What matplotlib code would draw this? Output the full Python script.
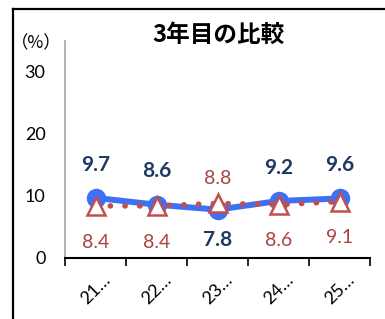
import matplotlib
matplotlib.use("Agg")
import matplotlib.pyplot as plt
from matplotlib.lines import Line2D
import numpy as np

plt.rcParams['font.family'] = ['Lato', 'Noto Sans CJK JP', 'DejaVu Sans']

categories = ["21…", "22…", "23…", "24…", "25…"]
series_a = [9.7, 8.6, 7.8, 9.2, 9.6]
series_b = [8.4, 8.4, 8.8, 8.6, 9.1]
a_label_above = [True, True, False, True, True]
b_label_above = [False, False, True, False, False]
title = "3年目の比較"
unit = "（%）"
yticks = [0, 10, 20, 30]

fig = plt.figure(figsize=(3.85, 3.19), dpi=100)
ax = fig.add_axes([65/385, 61/319, 305/385, 217/319])

x = np.arange(len(categories))
blue = "#3F6FF2"
navy = "#1F3864"
red = "#C0504D"
redtxt = "#A94442"

ax.plot(x, series_a, color=blue, lw=4.3, marker='o', ms=13,
        markerfacecolor=blue, markeredgecolor=blue, zorder=3)
ax.plot(x, series_b, color=red, lw=4.0, linestyle=(0, (0.05, 2.6)),
        dash_capstyle='round', zorder=4)
ax.plot(x, series_b, linestyle='none', marker='^', ms=13.5,
        markerfacecolor='white', markeredgecolor=red, markeredgewidth=1.8, zorder=5)

for xi, v, up in zip(x, series_a, a_label_above):
    ax.annotate(f"{v:.1f}", (xi, v), xytext=(0, 24 if up else -22),
                textcoords='offset points', ha='center', va='center',
                fontsize=15, fontweight='bold', color=navy)
for xi, v, up in zip(x, series_b, b_label_above):
    ax.annotate(f"{v:.1f}", (xi, v), xytext=(0, 18 if up else -26),
                textcoords='offset points', ha='center', va='center',
                fontsize=14, color=redtxt)

ax.set_xlim(-0.5, len(categories) - 0.5)
ax.set_ylim(0, 35)
ax.set_yticks(yticks)
ax.set_yticklabels([str(t) for t in yticks], fontsize=13)
ax.tick_params(axis='y', length=0, pad=14)
ax.set_xticks(x)
ax.set_xticklabels(categories, rotation=45, ha='center', fontsize=13)
ax.tick_params(axis='x', which='major', length=0, pad=10)
ax.set_xticks(np.arange(len(categories) + 1) - 0.5, minor=True)
ax.tick_params(axis='x', which='minor', length=6, width=1.2, color='black')

for s in ['top', 'right']:
    ax.spines[s].set_visible(False)
ax.spines['left'].set_color('#A6A6A6')
ax.spines['left'].set_linewidth(1.2)
ax.spines['bottom'].set_color('black')
ax.spines['bottom'].set_linewidth(1.5)

fig.text(218/385, 1 - 35/319, title, ha='center', va='center',
         fontsize=17, fontweight='bold', family=['Noto Sans CJK JP', 'DejaVu Sans'])
fig.text(11/385, 1 - 43/319, unit, ha='left', va='center', fontsize=12.5,
         family=['Noto Sans CJK JP', 'DejaVu Sans'])

fig.add_artist(Line2D([13/385, 1], [1 - 8.5/319, 1 - 8.5/319],
                      color='black', lw=1.6, transform=fig.transFigure))
fig.add_artist(Line2D([13/385, 13/385], [0, 1 - 8.5/319],
                      color='black', lw=1.6, transform=fig.transFigure))

fig.savefig("out.png", dpi=100)
